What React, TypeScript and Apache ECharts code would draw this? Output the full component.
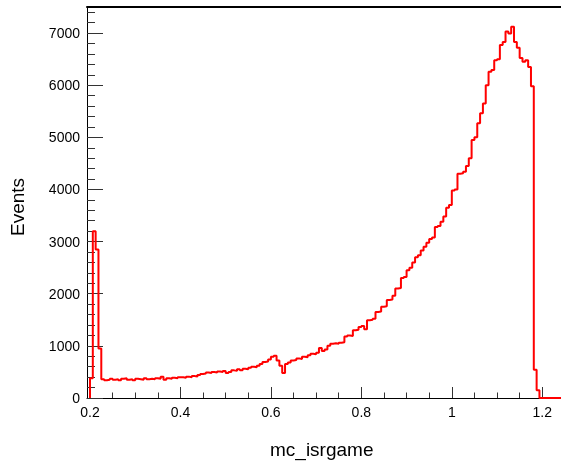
import React, { useEffect, useRef } from "react";
import * as echarts from "echarts";

// Histogram bins: start edge and width, counts per bin
const BIN_START = 0.2;
const BIN_WIDTH = 0.00625;
const counts = [
  380, 3200, 2850, 950, 360, 340, 350, 370, 350, 360,
  340, 370, 380, 350, 360, 340, 370, 360, 350, 380,
  360, 370, 360, 380, 370, 410, 350, 380, 370, 390,
  380, 400, 400, 390, 410, 400, 420, 410, 440, 460,
  470, 490, 480, 500, 490, 510, 500, 520, 480, 500,
  530, 520, 550, 530, 560, 550, 580, 600, 590, 620,
  650, 690, 700, 740, 790, 810, 720, 620, 480, 650,
  680, 720, 730, 760, 750, 790, 780, 820, 850, 840,
  870, 960, 900, 930, 1000, 1040, 1050, 1040, 1060, 1070,
  1180, 1200, 1190, 1300, 1310, 1360, 1380, 1320, 1490, 1500,
  1520, 1650, 1660, 1750, 1760, 1880, 1890, 1960, 2100, 2110,
  2300, 2320, 2450, 2500, 2600, 2700, 2740, 2830, 2900, 2980,
  3050, 3080, 3280, 3300, 3380, 3480, 3650, 3700, 3980, 4000,
  4300, 4310, 4340, 4450, 4600, 4950, 5000, 5270, 5460, 5650,
  6000, 6260, 6290, 6480, 6500, 6770, 6830, 7030, 6990, 7120,
  6830, 6720, 6520, 6450, 6480, 6350, 5980, 540, 150, 0,
];

const X_MIN = 0.1934;
const X_MAX = 1.2414;
const Y_MIN = 0;
const Y_MAX = 7500;

const xMajorTicks = [0.2, 0.4, 0.6, 0.8, 1.0, 1.2];
const xMinorTicks = [
  0.2, 0.25, 0.3, 0.35, 0.4, 0.45, 0.5, 0.55, 0.6, 0.65, 0.7,
  0.75, 0.8, 0.85, 0.9, 0.95, 1.0, 1.05, 1.1, 1.15, 1.2,
];
const yMajorTicks = [0, 1000, 2000, 3000, 4000, 5000, 6000, 7000];
const yMinorTicks = [
  0, 200, 400, 600, 800, 1000, 1200, 1400, 1600, 1800, 2000, 2200, 2400,
  2600, 2800, 3000, 3200, 3400, 3600, 3800, 4000, 4200, 4400, 4600, 4800,
  5000, 5200, 5400, 5600, 5800, 6000, 6200, 6400, 6600, 6800, 7000, 7200, 7400,
];

const X_TITLE = "mc_isrgame";
const Y_TITLE = "Events";

const FONT = "'Liberation Sans', Arial, Helvetica, sans-serif";

export default function App() {
  const ref = useRef<HTMLDivElement>(null);

  useEffect(() => {
    if (!ref.current) return;
    const chart = echarts.init(ref.current, undefined, { renderer: "svg" });

    const data: [number, number][] = [[BIN_START, 0]];
    counts.forEach((c, k) => data.push([BIN_START + k * BIN_WIDTH, c]));
    data.push([BIN_START + counts.length * BIN_WIDTH, 0]);
    data.push([X_MAX, 0]);

    const fmtX = (v: number) => String(Math.round(v * 10) / 10);
    const fmtY = (v: number) => String(Math.round(v));

    chart.setOption({
      animation: false,
      grid: { left: 87, right: 0, top: 7, bottom: 64, containLabel: false },
      xAxis: [
        {
          type: "value",
          position: "bottom",
          min: X_MIN,
          max: X_MAX,
          axisLine: { show: true, lineStyle: { color: "#000", width: 1 } },
          axisTick: {
            show: true,
            inside: true,
            length: 11,
            customValues: xMajorTicks,
            lineStyle: { color: "#333", width: 1 },
          },
          axisLabel: {
            show: true,
            customValues: xMajorTicks,
            formatter: fmtX,
            margin: 7,
            fontSize: 14,
            fontFamily: FONT,
            color: "#000",
          },
          splitLine: { show: false },
        },
        {
          type: "value",
          position: "bottom",
          offset: 0,
          min: X_MIN,
          max: X_MAX,
          axisLine: { show: false },
          axisTick: {
            show: true,
            inside: true,
            length: 5.5,
            customValues: xMinorTicks,
            lineStyle: { color: "#333", width: 1 },
          },
          axisLabel: { show: false },
          splitLine: { show: false },
        },
        {
          type: "value",
          position: "top",
          min: X_MIN,
          max: X_MAX,
          axisLine: { show: true, lineStyle: { color: "#000", width: 2 } },
          axisTick: { show: false },
          axisLabel: { show: false },
          splitLine: { show: false },
        },
      ],
      yAxis: [
        {
          type: "value",
          position: "left",
          min: Y_MIN,
          max: Y_MAX,
          axisLine: { show: true, lineStyle: { color: "#000", width: 1 } },
          axisTick: {
            show: true,
            inside: true,
            length: 16,
            customValues: yMajorTicks,
            lineStyle: { color: "#333", width: 1 },
          },
          axisLabel: {
            show: true,
            customValues: yMajorTicks,
            formatter: fmtY,
            margin: 7,
            fontSize: 14,
            fontFamily: FONT,
            color: "#000",
          },
          splitLine: { show: false },
        },
        {
          type: "value",
          position: "left",
          offset: 0,
          min: Y_MIN,
          max: Y_MAX,
          axisLine: { show: false },
          axisTick: {
            show: true,
            inside: true,
            length: 8,
            customValues: yMinorTicks,
            lineStyle: { color: "#333", width: 1 },
          },
          axisLabel: { show: false },
          splitLine: { show: false },
        },
      ],
      graphic: [
        {
          type: "text",
          left: 270,
          top: 440,
          style: {
            text: X_TITLE,
            fontSize: 19,
            fontFamily: FONT,
            fill: "#000",
          },
        },
        {
          type: "text",
          x: 8,
          y: 236,
          rotation: Math.PI / 2,
          style: {
            text: Y_TITLE,
            fontSize: 19,
            fontFamily: FONT,
            fill: "#000",
            align: "left",
            verticalAlign: "top",
          },
        },
      ],
      series: [
        {
          type: "line",
          xAxisIndex: 0,
          yAxisIndex: 0,
          step: "end",
          data,
          showSymbol: false,
          symbol: "none",
          silent: true,
          clip: false,
          lineStyle: { color: "#ff0000", width: 2 },
        },
      ],
    });

    return () => chart.dispose();
  }, []);

  return (
    <div
      ref={ref}
      style={{ position: "fixed", left: 0, top: 0, width: 561, height: 462 }}
    />
  );
}
